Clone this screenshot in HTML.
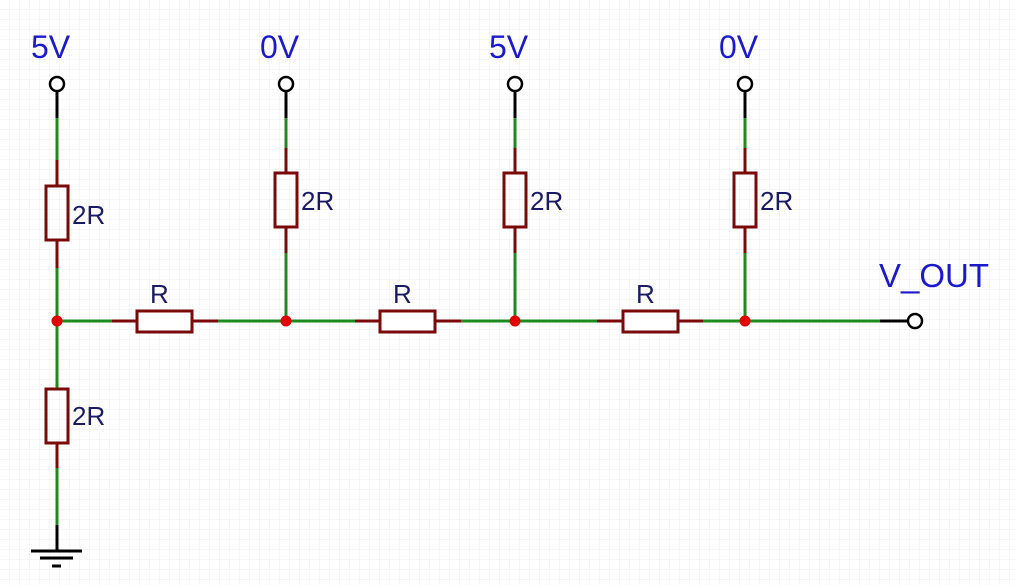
<!DOCTYPE html>
<html><head><meta charset="utf-8"><style>
html,body{margin:0;padding:0;background:#fff;}
svg{display:block;}
text{font-family:"Liberation Sans",sans-serif;}
</style></head><body>
<svg width="1016" height="585" viewBox="0 0 1016 585" xmlns="http://www.w3.org/2000/svg">
<defs>
<pattern id="g" width="10" height="10" patternUnits="userSpaceOnUse">
<path d="M10 0V10H0" fill="none" stroke="#ececec" stroke-width="1"/>
</pattern>
</defs>
<rect width="1016" height="585" fill="#fff"/>
<rect width="1016" height="585" fill="url(#g)"/>
<g stroke-width="3" fill="none">
<line x1="57" y1="91" x2="57" y2="118" stroke="#000"/>
<line x1="57" y1="118" x2="57" y2="160" stroke="#1e8a1e"/>
<line x1="57" y1="160" x2="57" y2="186" stroke="#7a0a0a"/>
<rect x="46" y="186" width="22" height="54" stroke="#7a0a0a"/>
<line x1="57" y1="240" x2="57" y2="268" stroke="#7a0a0a"/>
<line x1="57" y1="268" x2="57" y2="388" stroke="#1e8a1e"/>
<line x1="57" y1="388" x2="57" y2="389" stroke="#7a0a0a"/>
<rect x="46" y="389" width="22" height="54" stroke="#7a0a0a"/>
<line x1="57" y1="443" x2="57" y2="468" stroke="#7a0a0a"/>
<line x1="57" y1="468" x2="57" y2="525" stroke="#1e8a1e"/>
<line x1="57" y1="525" x2="57" y2="551" stroke="#000"/>
<line x1="31" y1="551" x2="82" y2="551" stroke="#000"/>
<line x1="40" y1="558" x2="73" y2="558" stroke="#000"/>
<line x1="52" y1="566" x2="61" y2="566" stroke="#000"/>
<g id="c">
<line x1="286" y1="91" x2="286" y2="118" stroke="#000"/>
<line x1="286" y1="118" x2="286" y2="148" stroke="#1e8a1e"/>
<line x1="286" y1="148" x2="286" y2="173" stroke="#7a0a0a"/>
<rect x="275" y="173" width="22" height="54" stroke="#7a0a0a"/>
<line x1="286" y1="227" x2="286" y2="253" stroke="#7a0a0a"/>
<line x1="286" y1="253" x2="286" y2="321" stroke="#1e8a1e"/>
<circle cx="286" cy="84" r="7" stroke="#000" stroke-width="2.5" fill="#fff"/>
</g>
<use href="#c" x="229"/>
<use href="#c" x="459"/>
<line x1="57" y1="321" x2="880" y2="321" stroke="#1e8a1e"/>
<line x1="112" y1="321" x2="218" y2="321" stroke="#7a0a0a"/>
<line x1="355" y1="321" x2="461" y2="321" stroke="#7a0a0a"/>
<line x1="597" y1="321" x2="703" y2="321" stroke="#7a0a0a"/>
<rect x="137" y="311" width="55" height="21" stroke="#7a0a0a" fill="#fff"/>
<rect x="380" y="311" width="55" height="21" stroke="#7a0a0a" fill="#fff"/>
<rect x="623" y="311" width="55" height="21" stroke="#7a0a0a" fill="#fff"/>
<line x1="880" y1="321" x2="908" y2="321" stroke="#000"/>
<circle cx="915" cy="321" r="7" stroke="#000" stroke-width="2.5" fill="#fff"/>
<circle cx="57" cy="84" r="7" stroke="#000" stroke-width="2.5" fill="#fff"/>
</g>
<g fill="#e00000">
<circle cx="57" cy="321" r="5.5"/><circle cx="286" cy="321" r="5.5"/>
<circle cx="515" cy="321" r="5.5"/><circle cx="745" cy="321" r="5.5"/>
</g>
<g fill="#1a1acc" font-size="32">
<text x="31" y="58">5V</text>
<text x="260" y="58">0V</text>
<text x="489" y="58">5V</text>
<text x="719" y="58">0V</text>
<text x="879" y="287" font-size="33">V_OUT</text>
</g>
<g fill="#1a1a66" font-size="26">
<text x="72" y="224">2R</text>
<text x="301" y="210">2R</text>
<text x="530" y="210">2R</text>
<text x="760" y="210">2R</text>
<text x="72" y="425">2R</text>
<text x="150" y="303">R</text>
<text x="393" y="303">R</text>
<text x="636" y="303">R</text>
</g>
</svg>
</body></html>
